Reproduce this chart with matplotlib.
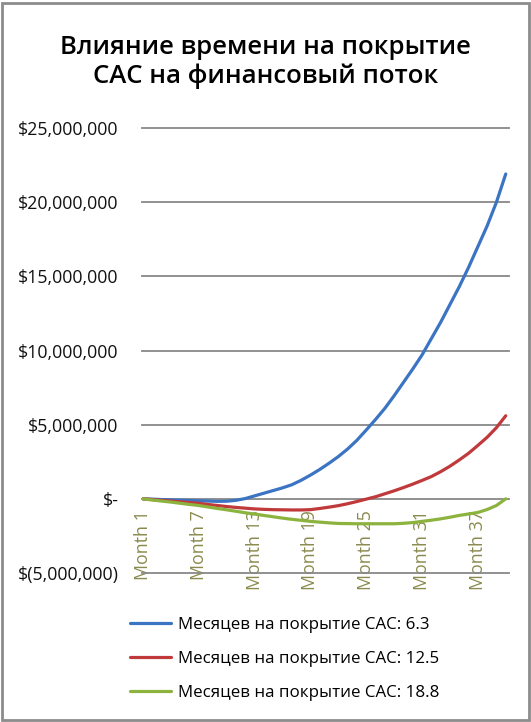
import matplotlib.pyplot as plt
from matplotlib.patches import Rectangle
from matplotlib.ticker import FuncFormatter

plt.rcParams['font.family'] = ['Open Sans', 'DejaVu Sans']

# месяцы 1..40
months = list(range(1, 41))
tick_months = [1, 7, 13, 19, 25, 31, 37]
tick_labels = ['Month %d' % m for m in tick_months]

# денежный поток, млн $
blue_vals = [0, -0.02, -0.05, -0.07, -0.09, -0.11, -0.13, -0.15, -0.17, -0.16,
             -0.10, 0.02, 0.2, 0.38, 0.56, 0.74, 0.95, 1.25, 1.6, 1.98,
             2.4, 2.85, 3.36, 3.95, 4.64, 5.35, 6.1, 6.95, 7.85, 8.75,
             9.7, 10.8, 11.9, 13.1, 14.3, 15.6, 17.0, 18.4, 20.0, 21.9]
red_vals = [0, -0.05, -0.1, -0.15, -0.2, -0.25, -0.3, -0.38, -0.45, -0.52,
            -0.58, -0.63, -0.68, -0.71, -0.73, -0.74, -0.75, -0.75, -0.73, -0.65,
            -0.56, -0.46, -0.33, -0.18, -0.02, 0.14, 0.34, 0.54, 0.76, 0.99,
            1.24, 1.5, 1.83, 2.2, 2.62, 3.07, 3.6, 4.15, 4.8, 5.6]
green_vals = [0, -0.08, -0.15, -0.22, -0.3, -0.38, -0.45, -0.55, -0.65, -0.74,
              -0.84, -0.94, -1.03, -1.12, -1.21, -1.3, -1.38, -1.45, -1.52, -1.57,
              -1.62, -1.66, -1.67, -1.68, -1.68, -1.68, -1.68, -1.68, -1.65, -1.6,
              -1.52, -1.44, -1.35, -1.24, -1.12, -1.02, -0.92, -0.72, -0.45, 0]

series_names = ['Месяцев на покрытие CAC: 6.3',
                'Месяцев на покрытие CAC: 12.5',
                'Месяцев на покрытие CAC: 18.8']
colors = ['#3b74c3', '#c0393b', '#8db33f']

W, H = 531, 722
fig = plt.figure(figsize=(W / 100, H / 100), dpi=100)
ax = fig.add_axes([142 / W, (H - 573) / H, (509 - 142) / W, (573 - 128) / H])

lines = []
for vals, c, name in zip([blue_vals, red_vals, green_vals], colors, series_names):
    l, = ax.plot(months, [v * 1e6 for v in vals], color=c, lw=2.3,
                 solid_capstyle='round', label=name, zorder=3)
    lines.append(l)

ax.set_xlim(0.89, 40.35)
ax.set_ylim(-5e6, 25e6)

# ось категорий проходит через ноль, как в Excel
ax.spines['bottom'].set_position(('data', 0))
for s in ax.spines.values():
    s.set_visible(False)

yt = [-5e6, 0, 5e6, 10e6, 15e6, 20e6, 25e6]
ax.set_yticks(yt)
for v in yt:
    ax.axhline(v, color='#888888', lw=1.3, zorder=2, clip_on=False)


def money(v, pos):
    if v == 0:
        return '$-'
    if v < 0:
        return '$(%s)' % format(int(-v), ',')
    return '$' + format(int(v), ',')


ax.yaxis.set_major_formatter(FuncFormatter(money))
ax.tick_params(axis='y', length=0, pad=17, labelsize=12.8, labelcolor='#111111')

ax.set_xticks(tick_months)
ax.set_xticklabels(tick_labels)
ax.tick_params(axis='x', length=0, pad=8, labelrotation=90, labelsize=12.8,
               labelcolor='#8a8a4e')

fig.text(0.5, 1 - 62 / H, 'Влияние времени на покрытие\nСАС на финансовый поток',
         ha='center', va='center', fontsize=18.5, fontweight='semibold',
         linespacing=1.2)

fig.legend(handles=lines, loc='upper left', bbox_to_anchor=(115 / W, 1 - 602 / H),
           frameon=False, fontsize=12.2, handlelength=2.4, labelspacing=1.05,
           handletextpad=0.42)

fig.patches.append(Rectangle((1.5 / W, 2 / H), (W - 4) / W, (H - 4.5) / H,
                             transform=fig.transFigure, fill=False,
                             edgecolor='#8c8c8c', lw=2))

fig.savefig('out.png', dpi=100)
